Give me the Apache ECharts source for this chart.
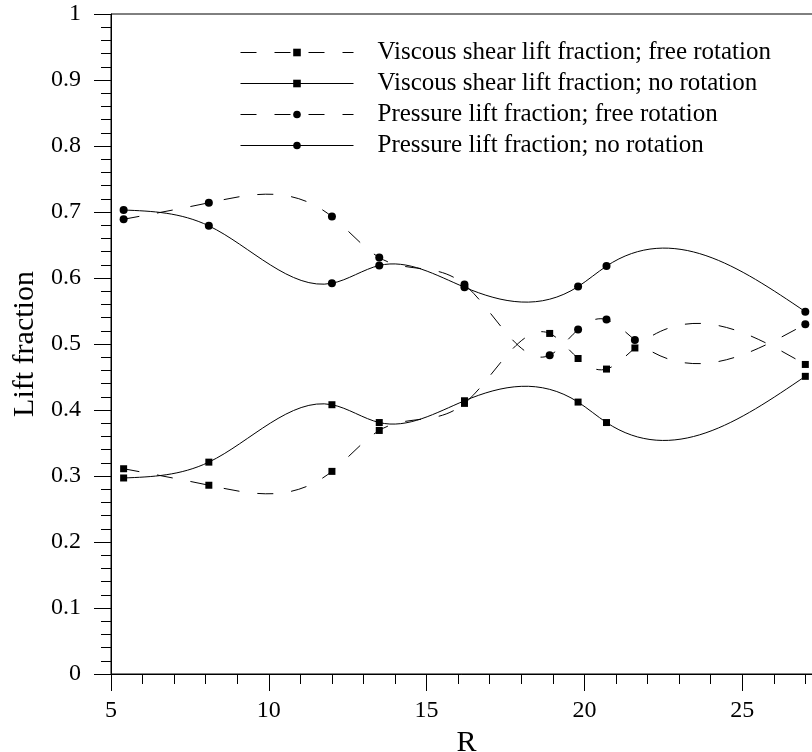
<!DOCTYPE html>
<html>
<head>
<meta charset="utf-8">
<script src="https://cdn.jsdelivr.net/npm/echarts@6/dist/echarts.min.js"></script>
<style>html,body{margin:0;padding:0;background:#fff;}#c{width:812px;height:752px;}</style>
</head>
<body>
<div id="c"></div>
<script>
// ---- data ----
const R_free  = [5.4, 8.1, 12, 13.5, 16.2, 18.9, 19.8, 20.7, 21.6, 27];
const R_norot = [5.4, 8.1, 12, 13.5, 16.2, 19.8, 20.7, 27];
const shearFree  = [0.311, 0.286, 0.307, 0.369, 0.410, 0.516, 0.478, 0.462, 0.494, 0.469];
const shearNoRot = [0.297, 0.321, 0.408, 0.381, 0.414, 0.412, 0.381, 0.451];
const pressFree  = [0.689, 0.714, 0.693, 0.631, 0.590, 0.483, 0.522, 0.537, 0.506, 0.530];
const pressNoRot = [0.703, 0.679, 0.592, 0.619, 0.586, 0.587, 0.618, 0.549];
const names = [
  'Viscous shear lift fraction; free rotation',
  'Viscous shear lift fraction; no rotation',
  'Pressure lift fraction; free rotation',
  'Pressure lift fraction; no rotation'
];

const FONT = '"Liberation Serif", "Times New Roman", serif';
const DASH = [16, 18];

// natural cubic spline -> cubic bezier segments (data space)
function splineSegments(xs, ys) {
  const n = xs.length, h = [], M = new Array(n).fill(0);
  for (let i = 0; i < n - 1; i++) h[i] = xs[i + 1] - xs[i];
  const a = [], b = [], c = [], d = [];
  for (let i = 1; i < n - 1; i++) {
    a[i] = h[i - 1]; b[i] = 2 * (h[i - 1] + h[i]); c[i] = h[i];
    d[i] = 6 * ((ys[i + 1] - ys[i]) / h[i] - (ys[i] - ys[i - 1]) / h[i - 1]);
  }
  for (let i = 2; i < n - 1; i++) {
    const w = a[i] / b[i - 1];
    b[i] -= w * c[i - 1]; d[i] -= w * d[i - 1];
  }
  for (let i = n - 2; i >= 1; i--) M[i] = (d[i] - c[i] * M[i + 1]) / b[i];
  const segs = [];
  for (let i = 0; i < n - 1; i++) {
    const hh = h[i], sl = (ys[i + 1] - ys[i]) / hh;
    const s0 = sl - hh * (2 * M[i] + M[i + 1]) / 6;
    const s1 = sl + hh * (M[i] + 2 * M[i + 1]) / 6;
    segs.push([[xs[i] + hh / 3, ys[i] + s0 * hh / 3],
               [xs[i + 1] - hh / 3, ys[i + 1] - s1 * hh / 3],
               [xs[i + 1], ys[i + 1]]]);
  }
  return segs;
}

function curveSeries(id, xs, ys, dash) {
  return {
    id: id, type: 'custom', silent: true, z: 2,
    data: xs.map((x, i) => [x, ys[i]]),
    encode: { x: 0, y: 1 },
    renderItem: function (params, api) {
      if (params.dataIndex !== 0) return null;
      const p0 = api.coord([xs[0], ys[0]]);
      let d = 'M' + p0[0] + ' ' + p0[1];
      splineSegments(xs, ys).forEach(s => {
        const q1 = api.coord(s[0]), q2 = api.coord(s[1]), q3 = api.coord(s[2]);
        d += ' C' + q1[0] + ' ' + q1[1] + ' ' + q2[0] + ' ' + q2[1] + ' ' + q3[0] + ' ' + q3[1];
      });
      return { type: 'path', shape: { pathData: d },
        style: { fill: 'none', stroke: '#000', lineWidth: 1, lineDash: dash } };
    }
  };
}

function markSeries(name, xs, ys, symbol, size) {
  return {
    name: name, type: 'line', z: 3,
    data: xs.map((x, i) => [x, ys[i]]),
    symbol: symbol, symbolSize: size, showSymbol: true, showAllSymbol: true,
    lineStyle: { opacity: 0 },
    itemStyle: { color: '#000', borderWidth: 0 },
    emphasis: { disabled: true }
  };
}

const chart = echarts.init(document.getElementById('c'), null, { renderer: 'canvas' });
const axisCommon = {
  axisLine: { show: true, lineStyle: { color: '#000', width: 1 } },
  axisTick: { show: true, inside: false, length: 17, lineStyle: { color: '#000', width: 1 } },
  minorTick: { show: true, splitNumber: 5, length: 10, lineStyle: { color: '#000', width: 1 } },
  splitLine: { show: false },
  minorSplitLine: { show: false }
};

chart.setOption({
  animation: false,
  backgroundColor: '#fff',
  grid: { left: 111, right: -88, top: 14, bottom: 78, containLabel: false, outerBoundsMode: 'none',
          show: true, borderColor: '#000', borderWidth: 1, backgroundColor: 'transparent' },
  xAxis: Object.assign({
    type: 'value', min: 5, max: 30, interval: 5,
    name: 'R', nameLocation: 'middle', nameGap: 44,
    nameTextStyle: { fontFamily: FONT, fontSize: 30, color: '#000', padding: [0, 78, 0, 0] },
    axisLabel: { fontFamily: FONT, fontSize: 24, color: '#000', margin: 25 }
  }, axisCommon),
  yAxis: Object.assign({
    type: 'value', min: 0, max: 1, interval: 0.1,
    name: 'Lift fraction', nameLocation: 'middle', nameGap: 71,
    nameTextStyle: { fontFamily: FONT, fontSize: 30, color: '#000' },
    axisLabel: { fontFamily: FONT, fontSize: 24, color: '#000', margin: 30 }
  }, axisCommon),
  legend: {
    orient: 'vertical', left: 235, top: 35, itemWidth: 113, itemHeight: 9.5, itemGap: 6,
    selectedMode: false,
    textStyle: { fontFamily: FONT, fontSize: 25, lineHeight: 25, color: '#000', padding: [0, 0, 0, 19] },
    data: [
      { name: names[0], lineStyle: { color: '#000', width: 1, type: DASH, opacity: 1 } },
      { name: names[1], lineStyle: { color: '#000', width: 1, type: 'solid', opacity: 1 } },
      { name: names[2], lineStyle: { color: '#000', width: 1, type: DASH, opacity: 1 } },
      { name: names[3], lineStyle: { color: '#000', width: 1, type: 'solid', opacity: 1 } }
    ]
  },
  series: [
    curveSeries('c0', R_free, shearFree, DASH),
    curveSeries('c1', R_norot, shearNoRot, null),
    curveSeries('c2', R_free, pressFree, DASH),
    curveSeries('c3', R_norot, pressNoRot, null),
    markSeries(names[0], R_free, shearFree, 'rect', 7),
    markSeries(names[1], R_norot, shearNoRot, 'rect', 7),
    markSeries(names[2], R_free, pressFree, 'circle', 8),
    markSeries(names[3], R_norot, pressNoRot, 'circle', 8)
  ]
});
</script>
</body>
</html>
